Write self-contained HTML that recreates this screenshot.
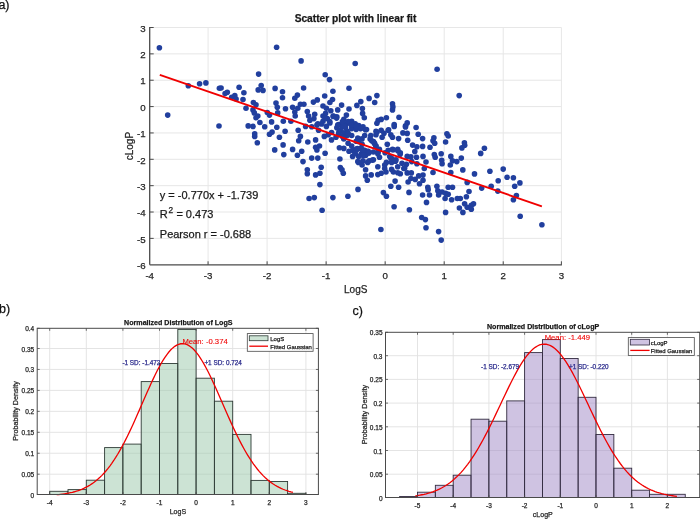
<!DOCTYPE html>
<html><head><meta charset="utf-8"><style>
html,body{margin:0;padding:0;background:#fff;}
svg{display:block;font-family:"Liberation Sans", sans-serif;will-change:transform;}
</style></head><body>
<svg width="700" height="519" viewBox="0 0 700 519">
<rect width="700" height="519" fill="#fff"/>
<line x1="208.07" y1="27.50" x2="208.07" y2="264.80" stroke="#e7e7e7" stroke-width="1"/>
<line x1="267.10" y1="27.50" x2="267.10" y2="264.80" stroke="#e7e7e7" stroke-width="1"/>
<line x1="326.13" y1="27.50" x2="326.13" y2="264.80" stroke="#e7e7e7" stroke-width="1"/>
<line x1="385.16" y1="27.50" x2="385.16" y2="264.80" stroke="#e7e7e7" stroke-width="1"/>
<line x1="444.19" y1="27.50" x2="444.19" y2="264.80" stroke="#e7e7e7" stroke-width="1"/>
<line x1="503.22" y1="27.50" x2="503.22" y2="264.80" stroke="#e7e7e7" stroke-width="1"/>
<line x1="561.40" y1="27.50" x2="561.40" y2="264.80" stroke="#e7e7e7" stroke-width="1"/>
<line x1="149.70" y1="238.38" x2="561.40" y2="238.38" stroke="#e7e7e7" stroke-width="1"/>
<line x1="149.70" y1="212.02" x2="561.40" y2="212.02" stroke="#e7e7e7" stroke-width="1"/>
<line x1="149.70" y1="185.66" x2="561.40" y2="185.66" stroke="#e7e7e7" stroke-width="1"/>
<line x1="149.70" y1="159.30" x2="561.40" y2="159.30" stroke="#e7e7e7" stroke-width="1"/>
<line x1="149.70" y1="132.94" x2="561.40" y2="132.94" stroke="#e7e7e7" stroke-width="1"/>
<line x1="149.70" y1="106.58" x2="561.40" y2="106.58" stroke="#e7e7e7" stroke-width="1"/>
<line x1="149.70" y1="80.22" x2="561.40" y2="80.22" stroke="#e7e7e7" stroke-width="1"/>
<line x1="149.70" y1="53.86" x2="561.40" y2="53.86" stroke="#e7e7e7" stroke-width="1"/>
<line x1="149.70" y1="27.50" x2="561.40" y2="27.50" stroke="#e7e7e7" stroke-width="1"/>
<line x1="149.70" y1="27.00" x2="149.70" y2="264.80" stroke="#4a4a4a" stroke-width="1.3"/>
<line x1="149.70" y1="264.80" x2="561.90" y2="264.80" stroke="#4a4a4a" stroke-width="1.3"/>
<line x1="149.70" y1="238.38" x2="153.70" y2="238.38" stroke="#4a4a4a" stroke-width="1"/>
<line x1="149.70" y1="212.02" x2="153.70" y2="212.02" stroke="#4a4a4a" stroke-width="1"/>
<line x1="149.70" y1="185.66" x2="153.70" y2="185.66" stroke="#4a4a4a" stroke-width="1"/>
<line x1="149.70" y1="159.30" x2="153.70" y2="159.30" stroke="#4a4a4a" stroke-width="1"/>
<line x1="149.70" y1="132.94" x2="153.70" y2="132.94" stroke="#4a4a4a" stroke-width="1"/>
<line x1="149.70" y1="106.58" x2="153.70" y2="106.58" stroke="#4a4a4a" stroke-width="1"/>
<line x1="149.70" y1="80.22" x2="153.70" y2="80.22" stroke="#4a4a4a" stroke-width="1"/>
<line x1="149.70" y1="53.86" x2="153.70" y2="53.86" stroke="#4a4a4a" stroke-width="1"/>
<line x1="149.70" y1="27.50" x2="153.70" y2="27.50" stroke="#4a4a4a" stroke-width="1"/>
<line x1="208.07" y1="264.80" x2="208.07" y2="261.30" stroke="#4a4a4a" stroke-width="1"/>
<line x1="267.10" y1="264.80" x2="267.10" y2="261.30" stroke="#4a4a4a" stroke-width="1"/>
<line x1="326.13" y1="264.80" x2="326.13" y2="261.30" stroke="#4a4a4a" stroke-width="1"/>
<line x1="385.16" y1="264.80" x2="385.16" y2="261.30" stroke="#4a4a4a" stroke-width="1"/>
<line x1="444.19" y1="264.80" x2="444.19" y2="261.30" stroke="#4a4a4a" stroke-width="1"/>
<line x1="503.22" y1="264.80" x2="503.22" y2="261.30" stroke="#4a4a4a" stroke-width="1"/>
<line x1="561.40" y1="264.80" x2="561.40" y2="261.30" stroke="#4a4a4a" stroke-width="1"/>
<text x="145.70" y="268.94" font-size="9.7" text-anchor="end" fill="#262626" stroke="#262626" stroke-width="0.25">-6</text>
<text x="145.70" y="242.58" font-size="9.7" text-anchor="end" fill="#262626" stroke="#262626" stroke-width="0.25">-5</text>
<text x="145.70" y="216.22" font-size="9.7" text-anchor="end" fill="#262626" stroke="#262626" stroke-width="0.25">-4</text>
<text x="145.70" y="189.86" font-size="9.7" text-anchor="end" fill="#262626" stroke="#262626" stroke-width="0.25">-3</text>
<text x="145.70" y="163.50" font-size="9.7" text-anchor="end" fill="#262626" stroke="#262626" stroke-width="0.25">-2</text>
<text x="145.70" y="137.14" font-size="9.7" text-anchor="end" fill="#262626" stroke="#262626" stroke-width="0.25">-1</text>
<text x="145.70" y="110.78" font-size="9.7" text-anchor="end" fill="#262626" stroke="#262626" stroke-width="0.25">0</text>
<text x="145.70" y="84.42" font-size="9.7" text-anchor="end" fill="#262626" stroke="#262626" stroke-width="0.25">1</text>
<text x="145.70" y="58.06" font-size="9.7" text-anchor="end" fill="#262626" stroke="#262626" stroke-width="0.25">2</text>
<text x="145.70" y="31.70" font-size="9.7" text-anchor="end" fill="#262626" stroke="#262626" stroke-width="0.25">3</text>
<text x="149.70" y="279.00" font-size="9.7" text-anchor="middle" fill="#262626" stroke="#262626" stroke-width="0.25">-4</text>
<text x="208.07" y="279.00" font-size="9.7" text-anchor="middle" fill="#262626" stroke="#262626" stroke-width="0.25">-3</text>
<text x="267.10" y="279.00" font-size="9.7" text-anchor="middle" fill="#262626" stroke="#262626" stroke-width="0.25">-2</text>
<text x="326.13" y="279.00" font-size="9.7" text-anchor="middle" fill="#262626" stroke="#262626" stroke-width="0.25">-1</text>
<text x="385.16" y="279.00" font-size="9.7" text-anchor="middle" fill="#262626" stroke="#262626" stroke-width="0.25">0</text>
<text x="444.19" y="279.00" font-size="9.7" text-anchor="middle" fill="#262626" stroke="#262626" stroke-width="0.25">1</text>
<text x="503.22" y="279.00" font-size="9.7" text-anchor="middle" fill="#262626" stroke="#262626" stroke-width="0.25">2</text>
<text x="561.40" y="279.00" font-size="9.7" text-anchor="middle" fill="#262626" stroke="#262626" stroke-width="0.25">3</text>
<circle cx="159.4" cy="47.7" r="2.8" fill="#213f9e"/>
<circle cx="188.3" cy="85.8" r="2.8" fill="#213f9e"/>
<circle cx="199.6" cy="83.8" r="2.8" fill="#213f9e"/>
<circle cx="205.9" cy="82.9" r="2.8" fill="#213f9e"/>
<circle cx="167.7" cy="115.1" r="2.8" fill="#213f9e"/>
<circle cx="219.0" cy="126.0" r="2.8" fill="#213f9e"/>
<circle cx="219.4" cy="88.2" r="2.8" fill="#213f9e"/>
<circle cx="221.1" cy="88.0" r="2.8" fill="#213f9e"/>
<circle cx="225.1" cy="93.5" r="2.8" fill="#213f9e"/>
<circle cx="227.3" cy="92.3" r="2.8" fill="#213f9e"/>
<circle cx="276.6" cy="47.2" r="2.8" fill="#213f9e"/>
<circle cx="301.1" cy="60.9" r="2.8" fill="#213f9e"/>
<circle cx="258.6" cy="74.1" r="2.8" fill="#213f9e"/>
<circle cx="239.1" cy="87.3" r="2.8" fill="#213f9e"/>
<circle cx="243.9" cy="92.7" r="2.8" fill="#213f9e"/>
<circle cx="234.8" cy="95.6" r="2.8" fill="#213f9e"/>
<circle cx="231.7" cy="97.3" r="2.8" fill="#213f9e"/>
<circle cx="236.1" cy="99.0" r="2.8" fill="#213f9e"/>
<circle cx="243.0" cy="99.5" r="2.8" fill="#213f9e"/>
<circle cx="261.2" cy="85.6" r="2.8" fill="#213f9e"/>
<circle cx="258.2" cy="89.9" r="2.8" fill="#213f9e"/>
<circle cx="263.0" cy="90.4" r="2.8" fill="#213f9e"/>
<circle cx="275.1" cy="88.4" r="2.8" fill="#213f9e"/>
<circle cx="282.5" cy="91.7" r="2.8" fill="#213f9e"/>
<circle cx="282.5" cy="97.7" r="2.8" fill="#213f9e"/>
<circle cx="253.4" cy="102.5" r="2.8" fill="#213f9e"/>
<circle cx="256.0" cy="104.7" r="2.8" fill="#213f9e"/>
<circle cx="246.0" cy="108.2" r="2.8" fill="#213f9e"/>
<circle cx="253.0" cy="109.9" r="2.8" fill="#213f9e"/>
<circle cx="254.3" cy="112.9" r="2.8" fill="#213f9e"/>
<circle cx="257.8" cy="116.0" r="2.8" fill="#213f9e"/>
<circle cx="256.0" cy="117.7" r="2.8" fill="#213f9e"/>
<circle cx="276.0" cy="103.1" r="2.8" fill="#213f9e"/>
<circle cx="277.3" cy="107.3" r="2.8" fill="#213f9e"/>
<circle cx="285.5" cy="108.8" r="2.8" fill="#213f9e"/>
<circle cx="267.3" cy="112.5" r="2.8" fill="#213f9e"/>
<circle cx="269.5" cy="115.1" r="2.8" fill="#213f9e"/>
<circle cx="277.7" cy="112.9" r="2.8" fill="#213f9e"/>
<circle cx="259.9" cy="122.5" r="2.8" fill="#213f9e"/>
<circle cx="271.6" cy="121.9" r="2.8" fill="#213f9e"/>
<circle cx="283.3" cy="121.2" r="2.8" fill="#213f9e"/>
<circle cx="248.2" cy="125.9" r="2.8" fill="#213f9e"/>
<circle cx="253.0" cy="126.4" r="2.8" fill="#213f9e"/>
<circle cx="264.7" cy="126.8" r="2.8" fill="#213f9e"/>
<circle cx="276.8" cy="127.2" r="2.8" fill="#213f9e"/>
<circle cx="355.2" cy="63.5" r="2.8" fill="#213f9e"/>
<circle cx="325.2" cy="74.7" r="2.8" fill="#213f9e"/>
<circle cx="329.5" cy="79.6" r="2.8" fill="#213f9e"/>
<circle cx="437.1" cy="69.2" r="2.8" fill="#213f9e"/>
<circle cx="459.2" cy="95.6" r="2.8" fill="#213f9e"/>
<circle cx="303.6" cy="88.0" r="2.8" fill="#213f9e"/>
<circle cx="297.4" cy="95.1" r="2.8" fill="#213f9e"/>
<circle cx="294.8" cy="98.2" r="2.8" fill="#213f9e"/>
<circle cx="292.6" cy="107.3" r="2.8" fill="#213f9e"/>
<circle cx="297.8" cy="108.2" r="2.8" fill="#213f9e"/>
<circle cx="300.4" cy="104.2" r="2.8" fill="#213f9e"/>
<circle cx="303.9" cy="104.2" r="2.8" fill="#213f9e"/>
<circle cx="294.8" cy="112.1" r="2.8" fill="#213f9e"/>
<circle cx="295.2" cy="116.0" r="2.8" fill="#213f9e"/>
<circle cx="290.9" cy="121.2" r="2.8" fill="#213f9e"/>
<circle cx="307.3" cy="111.6" r="2.8" fill="#213f9e"/>
<circle cx="308.6" cy="116.0" r="2.8" fill="#213f9e"/>
<circle cx="309.9" cy="120.3" r="2.8" fill="#213f9e"/>
<circle cx="313.4" cy="102.1" r="2.8" fill="#213f9e"/>
<circle cx="317.3" cy="99.9" r="2.8" fill="#213f9e"/>
<circle cx="314.7" cy="114.2" r="2.8" fill="#213f9e"/>
<circle cx="313.9" cy="118.6" r="2.8" fill="#213f9e"/>
<circle cx="324.7" cy="96.0" r="2.8" fill="#213f9e"/>
<circle cx="332.9" cy="91.2" r="2.8" fill="#213f9e"/>
<circle cx="332.5" cy="99.5" r="2.8" fill="#213f9e"/>
<circle cx="329.9" cy="102.5" r="2.8" fill="#213f9e"/>
<circle cx="323.0" cy="106.0" r="2.8" fill="#213f9e"/>
<circle cx="326.4" cy="108.2" r="2.8" fill="#213f9e"/>
<circle cx="330.8" cy="110.8" r="2.8" fill="#213f9e"/>
<circle cx="323.0" cy="116.0" r="2.8" fill="#213f9e"/>
<circle cx="325.6" cy="113.4" r="2.8" fill="#213f9e"/>
<circle cx="327.3" cy="118.6" r="2.8" fill="#213f9e"/>
<circle cx="323.0" cy="121.2" r="2.8" fill="#213f9e"/>
<circle cx="317.8" cy="123.8" r="2.8" fill="#213f9e"/>
<circle cx="329.9" cy="122.9" r="2.8" fill="#213f9e"/>
<circle cx="333.4" cy="116.0" r="2.8" fill="#213f9e"/>
<circle cx="336.8" cy="116.8" r="2.8" fill="#213f9e"/>
<circle cx="337.7" cy="109.9" r="2.8" fill="#213f9e"/>
<circle cx="341.6" cy="105.1" r="2.8" fill="#213f9e"/>
<circle cx="349.0" cy="88.2" r="2.8" fill="#213f9e"/>
<circle cx="349.0" cy="109.0" r="2.8" fill="#213f9e"/>
<circle cx="346.4" cy="115.1" r="2.8" fill="#213f9e"/>
<circle cx="343.8" cy="119.4" r="2.8" fill="#213f9e"/>
<circle cx="338.6" cy="124.6" r="2.8" fill="#213f9e"/>
<circle cx="346.4" cy="123.8" r="2.8" fill="#213f9e"/>
<circle cx="305.6" cy="126.4" r="2.8" fill="#213f9e"/>
<circle cx="311.7" cy="126.8" r="2.8" fill="#213f9e"/>
<circle cx="326.4" cy="126.4" r="2.8" fill="#213f9e"/>
<circle cx="342.0" cy="126.4" r="2.8" fill="#213f9e"/>
<circle cx="376.9" cy="95.6" r="2.8" fill="#213f9e"/>
<circle cx="369.1" cy="98.4" r="2.8" fill="#213f9e"/>
<circle cx="374.7" cy="102.5" r="2.8" fill="#213f9e"/>
<circle cx="360.8" cy="101.6" r="2.8" fill="#213f9e"/>
<circle cx="356.9" cy="105.4" r="2.8" fill="#213f9e"/>
<circle cx="362.4" cy="108.6" r="2.8" fill="#213f9e"/>
<circle cx="362.6" cy="113.4" r="2.8" fill="#213f9e"/>
<circle cx="364.3" cy="117.7" r="2.8" fill="#213f9e"/>
<circle cx="392.5" cy="103.8" r="2.8" fill="#213f9e"/>
<circle cx="392.9" cy="106.9" r="2.8" fill="#213f9e"/>
<circle cx="392.5" cy="109.9" r="2.8" fill="#213f9e"/>
<circle cx="386.4" cy="117.7" r="2.8" fill="#213f9e"/>
<circle cx="381.2" cy="119.4" r="2.8" fill="#213f9e"/>
<circle cx="378.2" cy="120.3" r="2.8" fill="#213f9e"/>
<circle cx="376.9" cy="123.3" r="2.8" fill="#213f9e"/>
<circle cx="399.0" cy="117.3" r="2.8" fill="#213f9e"/>
<circle cx="394.2" cy="124.6" r="2.8" fill="#213f9e"/>
<circle cx="407.2" cy="122.9" r="2.8" fill="#213f9e"/>
<circle cx="405.5" cy="125.9" r="2.8" fill="#213f9e"/>
<circle cx="351.7" cy="121.2" r="2.8" fill="#213f9e"/>
<circle cx="355.2" cy="123.8" r="2.8" fill="#213f9e"/>
<circle cx="358.7" cy="125.5" r="2.8" fill="#213f9e"/>
<circle cx="363.0" cy="126.8" r="2.8" fill="#213f9e"/>
<circle cx="350.9" cy="124.6" r="2.8" fill="#213f9e"/>
<circle cx="464.4" cy="142.7" r="2.8" fill="#213f9e"/>
<circle cx="464.7" cy="145.3" r="2.8" fill="#213f9e"/>
<circle cx="461.9" cy="147.9" r="2.8" fill="#213f9e"/>
<circle cx="484.4" cy="148.2" r="2.8" fill="#213f9e"/>
<circle cx="480.7" cy="153.4" r="2.8" fill="#213f9e"/>
<circle cx="461.3" cy="158.1" r="2.8" fill="#213f9e"/>
<circle cx="462.8" cy="169.9" r="2.8" fill="#213f9e"/>
<circle cx="474.5" cy="173.9" r="2.8" fill="#213f9e"/>
<circle cx="489.9" cy="171.2" r="2.8" fill="#213f9e"/>
<circle cx="503.2" cy="169.1" r="2.8" fill="#213f9e"/>
<circle cx="507.1" cy="177.3" r="2.8" fill="#213f9e"/>
<circle cx="513.4" cy="177.8" r="2.8" fill="#213f9e"/>
<circle cx="416.1" cy="127.5" r="2.8" fill="#213f9e"/>
<circle cx="254.7" cy="133.8" r="2.8" fill="#213f9e"/>
<circle cx="254.7" cy="136.4" r="2.8" fill="#213f9e"/>
<circle cx="257.3" cy="142.7" r="2.8" fill="#213f9e"/>
<circle cx="269.5" cy="134.2" r="2.8" fill="#213f9e"/>
<circle cx="272.1" cy="132.1" r="2.8" fill="#213f9e"/>
<circle cx="285.1" cy="131.2" r="2.8" fill="#213f9e"/>
<circle cx="279.4" cy="137.3" r="2.8" fill="#213f9e"/>
<circle cx="283.1" cy="144.9" r="2.8" fill="#213f9e"/>
<circle cx="274.7" cy="149.9" r="2.8" fill="#213f9e"/>
<circle cx="283.8" cy="154.6" r="2.8" fill="#213f9e"/>
<circle cx="298.2" cy="130.3" r="2.8" fill="#213f9e"/>
<circle cx="300.4" cy="136.4" r="2.8" fill="#213f9e"/>
<circle cx="298.7" cy="140.7" r="2.8" fill="#213f9e"/>
<circle cx="307.8" cy="142.0" r="2.8" fill="#213f9e"/>
<circle cx="315.6" cy="139.9" r="2.8" fill="#213f9e"/>
<circle cx="318.6" cy="130.3" r="2.8" fill="#213f9e"/>
<circle cx="324.3" cy="136.4" r="2.8" fill="#213f9e"/>
<circle cx="328.2" cy="134.7" r="2.8" fill="#213f9e"/>
<circle cx="331.5" cy="139.9" r="2.8" fill="#213f9e"/>
<circle cx="319.5" cy="146.0" r="2.8" fill="#213f9e"/>
<circle cx="315.6" cy="147.2" r="2.8" fill="#213f9e"/>
<circle cx="316.9" cy="149.9" r="2.8" fill="#213f9e"/>
<circle cx="325.1" cy="153.3" r="2.8" fill="#213f9e"/>
<circle cx="292.6" cy="149.4" r="2.8" fill="#213f9e"/>
<circle cx="301.7" cy="151.2" r="2.8" fill="#213f9e"/>
<circle cx="297.4" cy="155.3" r="2.8" fill="#213f9e"/>
<circle cx="311.7" cy="158.1" r="2.8" fill="#213f9e"/>
<circle cx="317.8" cy="158.1" r="2.8" fill="#213f9e"/>
<circle cx="303.0" cy="161.6" r="2.8" fill="#213f9e"/>
<circle cx="321.2" cy="167.2" r="2.8" fill="#213f9e"/>
<circle cx="307.3" cy="169.8" r="2.8" fill="#213f9e"/>
<circle cx="339.4" cy="147.7" r="2.8" fill="#213f9e"/>
<circle cx="343.8" cy="148.4" r="2.8" fill="#213f9e"/>
<circle cx="349.0" cy="151.2" r="2.8" fill="#213f9e"/>
<circle cx="339.9" cy="159.0" r="2.8" fill="#213f9e"/>
<circle cx="340.3" cy="167.6" r="2.8" fill="#213f9e"/>
<circle cx="342.0" cy="169.8" r="2.8" fill="#213f9e"/>
<circle cx="336.8" cy="127.7" r="2.8" fill="#213f9e"/>
<circle cx="340.3" cy="130.3" r="2.8" fill="#213f9e"/>
<circle cx="338.6" cy="133.8" r="2.8" fill="#213f9e"/>
<circle cx="343.8" cy="132.9" r="2.8" fill="#213f9e"/>
<circle cx="347.2" cy="135.5" r="2.8" fill="#213f9e"/>
<circle cx="343.8" cy="139.0" r="2.8" fill="#213f9e"/>
<circle cx="348.1" cy="143.3" r="2.8" fill="#213f9e"/>
<circle cx="336.0" cy="137.3" r="2.8" fill="#213f9e"/>
<circle cx="347.2" cy="131.2" r="2.8" fill="#213f9e"/>
<circle cx="331.6" cy="132.5" r="2.8" fill="#213f9e"/>
<circle cx="345.5" cy="127.7" r="2.8" fill="#213f9e"/>
<circle cx="351.7" cy="128.6" r="2.8" fill="#213f9e"/>
<circle cx="356.1" cy="129.5" r="2.8" fill="#213f9e"/>
<circle cx="360.4" cy="128.6" r="2.8" fill="#213f9e"/>
<circle cx="366.5" cy="129.5" r="2.8" fill="#213f9e"/>
<circle cx="376.0" cy="131.2" r="2.8" fill="#213f9e"/>
<circle cx="381.2" cy="130.3" r="2.8" fill="#213f9e"/>
<circle cx="388.2" cy="130.3" r="2.8" fill="#213f9e"/>
<circle cx="394.2" cy="126.4" r="2.8" fill="#213f9e"/>
<circle cx="405.5" cy="126.9" r="2.8" fill="#213f9e"/>
<circle cx="402.9" cy="132.9" r="2.8" fill="#213f9e"/>
<circle cx="407.2" cy="133.4" r="2.8" fill="#213f9e"/>
<circle cx="351.7" cy="135.5" r="2.8" fill="#213f9e"/>
<circle cx="357.8" cy="138.1" r="2.8" fill="#213f9e"/>
<circle cx="364.7" cy="135.5" r="2.8" fill="#213f9e"/>
<circle cx="370.8" cy="135.5" r="2.8" fill="#213f9e"/>
<circle cx="376.0" cy="134.7" r="2.8" fill="#213f9e"/>
<circle cx="382.1" cy="137.3" r="2.8" fill="#213f9e"/>
<circle cx="390.8" cy="134.7" r="2.8" fill="#213f9e"/>
<circle cx="392.5" cy="137.3" r="2.8" fill="#213f9e"/>
<circle cx="398.6" cy="138.6" r="2.8" fill="#213f9e"/>
<circle cx="407.7" cy="140.3" r="2.8" fill="#213f9e"/>
<circle cx="358.7" cy="141.6" r="2.8" fill="#213f9e"/>
<circle cx="362.1" cy="144.2" r="2.8" fill="#213f9e"/>
<circle cx="371.7" cy="140.7" r="2.8" fill="#213f9e"/>
<circle cx="374.3" cy="143.3" r="2.8" fill="#213f9e"/>
<circle cx="376.0" cy="146.0" r="2.8" fill="#213f9e"/>
<circle cx="387.3" cy="144.2" r="2.8" fill="#213f9e"/>
<circle cx="351.7" cy="146.0" r="2.8" fill="#213f9e"/>
<circle cx="352.6" cy="150.3" r="2.8" fill="#213f9e"/>
<circle cx="356.9" cy="149.4" r="2.8" fill="#213f9e"/>
<circle cx="360.4" cy="148.5" r="2.8" fill="#213f9e"/>
<circle cx="364.7" cy="150.3" r="2.8" fill="#213f9e"/>
<circle cx="368.2" cy="151.2" r="2.8" fill="#213f9e"/>
<circle cx="355.2" cy="153.8" r="2.8" fill="#213f9e"/>
<circle cx="361.3" cy="153.8" r="2.8" fill="#213f9e"/>
<circle cx="373.4" cy="152.0" r="2.8" fill="#213f9e"/>
<circle cx="377.8" cy="153.8" r="2.8" fill="#213f9e"/>
<circle cx="388.2" cy="150.3" r="2.8" fill="#213f9e"/>
<circle cx="392.5" cy="149.4" r="2.8" fill="#213f9e"/>
<circle cx="397.7" cy="149.4" r="2.8" fill="#213f9e"/>
<circle cx="400.3" cy="152.9" r="2.8" fill="#213f9e"/>
<circle cx="407.2" cy="156.4" r="2.8" fill="#213f9e"/>
<circle cx="352.6" cy="156.4" r="2.8" fill="#213f9e"/>
<circle cx="358.7" cy="156.4" r="2.8" fill="#213f9e"/>
<circle cx="365.6" cy="155.5" r="2.8" fill="#213f9e"/>
<circle cx="379.5" cy="157.2" r="2.8" fill="#213f9e"/>
<circle cx="390.8" cy="158.1" r="2.8" fill="#213f9e"/>
<circle cx="396.0" cy="159.8" r="2.8" fill="#213f9e"/>
<circle cx="357.8" cy="161.6" r="2.8" fill="#213f9e"/>
<circle cx="363.0" cy="160.7" r="2.8" fill="#213f9e"/>
<circle cx="369.1" cy="160.7" r="2.8" fill="#213f9e"/>
<circle cx="373.4" cy="159.8" r="2.8" fill="#213f9e"/>
<circle cx="386.4" cy="162.4" r="2.8" fill="#213f9e"/>
<circle cx="391.6" cy="162.4" r="2.8" fill="#213f9e"/>
<circle cx="402.0" cy="163.3" r="2.8" fill="#213f9e"/>
<circle cx="406.4" cy="164.2" r="2.8" fill="#213f9e"/>
<circle cx="362.1" cy="165.0" r="2.8" fill="#213f9e"/>
<circle cx="377.8" cy="166.8" r="2.8" fill="#213f9e"/>
<circle cx="384.7" cy="165.0" r="2.8" fill="#213f9e"/>
<circle cx="384.7" cy="168.5" r="2.8" fill="#213f9e"/>
<circle cx="391.6" cy="169.4" r="2.8" fill="#213f9e"/>
<circle cx="397.7" cy="166.8" r="2.8" fill="#213f9e"/>
<circle cx="403.8" cy="168.5" r="2.8" fill="#213f9e"/>
<circle cx="365.6" cy="169.8" r="2.8" fill="#213f9e"/>
<circle cx="418.2" cy="134.2" r="2.8" fill="#213f9e"/>
<circle cx="422.6" cy="138.6" r="2.8" fill="#213f9e"/>
<circle cx="433.9" cy="137.7" r="2.8" fill="#213f9e"/>
<circle cx="433.0" cy="140.7" r="2.8" fill="#213f9e"/>
<circle cx="434.7" cy="143.3" r="2.8" fill="#213f9e"/>
<circle cx="430.0" cy="147.2" r="2.8" fill="#213f9e"/>
<circle cx="446.9" cy="133.8" r="2.8" fill="#213f9e"/>
<circle cx="448.2" cy="136.0" r="2.8" fill="#213f9e"/>
<circle cx="445.6" cy="142.0" r="2.8" fill="#213f9e"/>
<circle cx="412.6" cy="145.1" r="2.8" fill="#213f9e"/>
<circle cx="416.9" cy="146.8" r="2.8" fill="#213f9e"/>
<circle cx="422.6" cy="146.4" r="2.8" fill="#213f9e"/>
<circle cx="414.8" cy="151.6" r="2.8" fill="#213f9e"/>
<circle cx="410.9" cy="156.8" r="2.8" fill="#213f9e"/>
<circle cx="416.5" cy="157.2" r="2.8" fill="#213f9e"/>
<circle cx="423.0" cy="156.4" r="2.8" fill="#213f9e"/>
<circle cx="426.0" cy="162.0" r="2.8" fill="#213f9e"/>
<circle cx="434.3" cy="154.6" r="2.8" fill="#213f9e"/>
<circle cx="435.2" cy="157.2" r="2.8" fill="#213f9e"/>
<circle cx="441.2" cy="153.8" r="2.8" fill="#213f9e"/>
<circle cx="441.7" cy="160.3" r="2.8" fill="#213f9e"/>
<circle cx="442.1" cy="163.7" r="2.8" fill="#213f9e"/>
<circle cx="450.8" cy="156.4" r="2.8" fill="#213f9e"/>
<circle cx="452.5" cy="160.7" r="2.8" fill="#213f9e"/>
<circle cx="456.8" cy="161.6" r="2.8" fill="#213f9e"/>
<circle cx="450.3" cy="165.0" r="2.8" fill="#213f9e"/>
<circle cx="411.7" cy="161.6" r="2.8" fill="#213f9e"/>
<circle cx="416.9" cy="163.7" r="2.8" fill="#213f9e"/>
<circle cx="424.3" cy="168.5" r="2.8" fill="#213f9e"/>
<circle cx="307.3" cy="173.8" r="2.8" fill="#213f9e"/>
<circle cx="315.6" cy="174.9" r="2.8" fill="#213f9e"/>
<circle cx="319.9" cy="173.3" r="2.8" fill="#213f9e"/>
<circle cx="319.9" cy="184.6" r="2.8" fill="#213f9e"/>
<circle cx="309.1" cy="198.5" r="2.8" fill="#213f9e"/>
<circle cx="314.3" cy="197.6" r="2.8" fill="#213f9e"/>
<circle cx="332.9" cy="197.6" r="2.8" fill="#213f9e"/>
<circle cx="347.9" cy="196.3" r="2.8" fill="#213f9e"/>
<circle cx="322.1" cy="210.2" r="2.8" fill="#213f9e"/>
<circle cx="343.3" cy="173.3" r="2.8" fill="#213f9e"/>
<circle cx="365.6" cy="175.9" r="2.8" fill="#213f9e"/>
<circle cx="367.3" cy="180.3" r="2.8" fill="#213f9e"/>
<circle cx="371.2" cy="174.9" r="2.8" fill="#213f9e"/>
<circle cx="377.8" cy="174.6" r="2.8" fill="#213f9e"/>
<circle cx="381.2" cy="173.3" r="2.8" fill="#213f9e"/>
<circle cx="386.0" cy="172.0" r="2.8" fill="#213f9e"/>
<circle cx="393.4" cy="172.0" r="2.8" fill="#213f9e"/>
<circle cx="400.3" cy="173.8" r="2.8" fill="#213f9e"/>
<circle cx="407.2" cy="172.9" r="2.8" fill="#213f9e"/>
<circle cx="395.1" cy="181.1" r="2.8" fill="#213f9e"/>
<circle cx="390.8" cy="186.3" r="2.8" fill="#213f9e"/>
<circle cx="398.6" cy="187.2" r="2.8" fill="#213f9e"/>
<circle cx="408.1" cy="182.0" r="2.8" fill="#213f9e"/>
<circle cx="358.0" cy="189.4" r="2.8" fill="#213f9e"/>
<circle cx="383.4" cy="192.6" r="2.8" fill="#213f9e"/>
<circle cx="386.4" cy="196.3" r="2.8" fill="#213f9e"/>
<circle cx="394.1" cy="206.7" r="2.8" fill="#213f9e"/>
<circle cx="409.0" cy="192.4" r="2.8" fill="#213f9e"/>
<circle cx="409.4" cy="209.8" r="2.8" fill="#213f9e"/>
<circle cx="411.3" cy="172.9" r="2.8" fill="#213f9e"/>
<circle cx="410.9" cy="178.5" r="2.8" fill="#213f9e"/>
<circle cx="415.2" cy="179.4" r="2.8" fill="#213f9e"/>
<circle cx="418.7" cy="175.9" r="2.8" fill="#213f9e"/>
<circle cx="423.0" cy="175.1" r="2.8" fill="#213f9e"/>
<circle cx="423.0" cy="180.3" r="2.8" fill="#213f9e"/>
<circle cx="419.5" cy="183.7" r="2.8" fill="#213f9e"/>
<circle cx="433.0" cy="172.5" r="2.8" fill="#213f9e"/>
<circle cx="450.8" cy="172.5" r="2.8" fill="#213f9e"/>
<circle cx="467.2" cy="182.4" r="2.8" fill="#213f9e"/>
<circle cx="427.8" cy="187.2" r="2.8" fill="#213f9e"/>
<circle cx="428.2" cy="189.8" r="2.8" fill="#213f9e"/>
<circle cx="436.9" cy="186.3" r="2.8" fill="#213f9e"/>
<circle cx="437.8" cy="190.7" r="2.8" fill="#213f9e"/>
<circle cx="442.1" cy="192.0" r="2.8" fill="#213f9e"/>
<circle cx="438.6" cy="195.0" r="2.8" fill="#213f9e"/>
<circle cx="445.6" cy="193.3" r="2.8" fill="#213f9e"/>
<circle cx="448.2" cy="187.2" r="2.8" fill="#213f9e"/>
<circle cx="452.5" cy="187.2" r="2.8" fill="#213f9e"/>
<circle cx="448.2" cy="194.2" r="2.8" fill="#213f9e"/>
<circle cx="445.1" cy="198.5" r="2.8" fill="#213f9e"/>
<circle cx="451.6" cy="199.8" r="2.8" fill="#213f9e"/>
<circle cx="457.3" cy="198.5" r="2.8" fill="#213f9e"/>
<circle cx="460.3" cy="198.5" r="2.8" fill="#213f9e"/>
<circle cx="466.4" cy="196.8" r="2.8" fill="#213f9e"/>
<circle cx="469.0" cy="191.5" r="2.8" fill="#213f9e"/>
<circle cx="422.6" cy="195.0" r="2.8" fill="#213f9e"/>
<circle cx="429.5" cy="195.0" r="2.8" fill="#213f9e"/>
<circle cx="426.5" cy="202.4" r="2.8" fill="#213f9e"/>
<circle cx="445.6" cy="212.4" r="2.8" fill="#213f9e"/>
<circle cx="459.4" cy="208.0" r="2.8" fill="#213f9e"/>
<circle cx="464.6" cy="203.7" r="2.8" fill="#213f9e"/>
<circle cx="467.2" cy="207.2" r="2.8" fill="#213f9e"/>
<circle cx="462.9" cy="212.4" r="2.8" fill="#213f9e"/>
<circle cx="498.2" cy="180.7" r="2.8" fill="#213f9e"/>
<circle cx="519.9" cy="182.9" r="2.8" fill="#213f9e"/>
<circle cx="514.7" cy="186.3" r="2.8" fill="#213f9e"/>
<circle cx="481.7" cy="188.1" r="2.8" fill="#213f9e"/>
<circle cx="491.2" cy="186.3" r="2.8" fill="#213f9e"/>
<circle cx="497.8" cy="191.1" r="2.8" fill="#213f9e"/>
<circle cx="516.4" cy="195.5" r="2.8" fill="#213f9e"/>
<circle cx="513.4" cy="199.8" r="2.8" fill="#213f9e"/>
<circle cx="473.5" cy="203.7" r="2.8" fill="#213f9e"/>
<circle cx="471.3" cy="205.4" r="2.8" fill="#213f9e"/>
<circle cx="471.3" cy="209.3" r="2.8" fill="#213f9e"/>
<circle cx="520.2" cy="216.2" r="2.8" fill="#213f9e"/>
<circle cx="541.9" cy="224.7" r="2.8" fill="#213f9e"/>
<circle cx="380.9" cy="229.5" r="2.8" fill="#213f9e"/>
<circle cx="421.7" cy="217.5" r="2.8" fill="#213f9e"/>
<circle cx="425.4" cy="219.6" r="2.8" fill="#213f9e"/>
<circle cx="426.0" cy="227.8" r="2.8" fill="#213f9e"/>
<circle cx="438.6" cy="231.6" r="2.8" fill="#213f9e"/>
<circle cx="441.2" cy="240.1" r="2.8" fill="#213f9e"/>
<circle cx="325.0" cy="118.1" r="2.8" fill="#213f9e"/>
<circle cx="329.7" cy="121.6" r="2.8" fill="#213f9e"/>
<circle cx="333.1" cy="116.4" r="2.8" fill="#213f9e"/>
<circle cx="336.6" cy="118.1" r="2.8" fill="#213f9e"/>
<circle cx="316.9" cy="125.1" r="2.8" fill="#213f9e"/>
<circle cx="321.6" cy="123.9" r="2.8" fill="#213f9e"/>
<circle cx="337.7" cy="125.1" r="2.8" fill="#213f9e"/>
<circle cx="342.4" cy="121.6" r="2.8" fill="#213f9e"/>
<circle cx="348.2" cy="121.6" r="2.8" fill="#213f9e"/>
<circle cx="344.7" cy="126.2" r="2.8" fill="#213f9e"/>
<circle cx="351.6" cy="125.1" r="2.8" fill="#213f9e"/>
<circle cx="356.2" cy="126.2" r="2.8" fill="#213f9e"/>
<circle cx="360.9" cy="128.5" r="2.8" fill="#213f9e"/>
<circle cx="365.5" cy="129.7" r="2.8" fill="#213f9e"/>
<circle cx="338.9" cy="132.0" r="2.8" fill="#213f9e"/>
<circle cx="348.2" cy="133.2" r="2.8" fill="#213f9e"/>
<circle cx="342.4" cy="136.6" r="2.8" fill="#213f9e"/>
<circle cx="356.2" cy="141.2" r="2.8" fill="#213f9e"/>
<circle cx="362.0" cy="138.9" r="2.8" fill="#213f9e"/>
<circle cx="370.1" cy="138.9" r="2.8" fill="#213f9e"/>
<circle cx="374.7" cy="143.6" r="2.8" fill="#213f9e"/>
<circle cx="362.0" cy="149.3" r="2.8" fill="#213f9e"/>
<circle cx="356.2" cy="149.3" r="2.8" fill="#213f9e"/>
<circle cx="367.8" cy="151.6" r="2.8" fill="#213f9e"/>
<circle cx="379.4" cy="149.3" r="2.8" fill="#213f9e"/>
<circle cx="385.1" cy="152.8" r="2.8" fill="#213f9e"/>
<circle cx="377.0" cy="132.0" r="2.8" fill="#213f9e"/>
<circle cx="384.0" cy="133.2" r="2.8" fill="#213f9e"/>
<circle cx="388.6" cy="129.7" r="2.8" fill="#213f9e"/>
<circle cx="393.2" cy="149.7" r="2.8" fill="#213f9e"/>
<circle cx="397.8" cy="150.8" r="2.8" fill="#213f9e"/>
<circle cx="400.1" cy="154.3" r="2.8" fill="#213f9e"/>
<circle cx="392.0" cy="158.9" r="2.8" fill="#213f9e"/>
<circle cx="395.5" cy="161.2" r="2.8" fill="#213f9e"/>
<circle cx="389.7" cy="156.6" r="2.8" fill="#213f9e"/>
<circle cx="357.3" cy="148.5" r="2.8" fill="#213f9e"/>
<circle cx="363.1" cy="150.8" r="2.8" fill="#213f9e"/>
<circle cx="368.9" cy="153.1" r="2.8" fill="#213f9e"/>
<circle cx="355.0" cy="153.1" r="2.8" fill="#213f9e"/>
<circle cx="363.1" cy="155.4" r="2.8" fill="#213f9e"/>
<circle cx="373.5" cy="141.6" r="2.8" fill="#213f9e"/>
<circle cx="375.8" cy="146.2" r="2.8" fill="#213f9e"/>
<circle cx="378.2" cy="152.0" r="2.8" fill="#213f9e"/>
<circle cx="404.7" cy="168.1" r="2.8" fill="#213f9e"/>
<circle cx="397.8" cy="172.8" r="2.8" fill="#213f9e"/>
<circle cx="367.7" cy="162.4" r="2.8" fill="#213f9e"/>
<circle cx="372.4" cy="160.1" r="2.8" fill="#213f9e"/>
<circle cx="358.5" cy="162.4" r="2.8" fill="#213f9e"/>
<line x1="159.78" y1="74.93" x2="541.88" y2="206.31" stroke="#f00000" stroke-width="1.85"/>
<text x="355.5" y="22.2" font-size="10.2" font-weight="bold" text-anchor="middle" fill="#1a1a1a" stroke="#1a1a1a" stroke-width="0.25">Scatter plot with linear fit</text>
<text x="355.7" y="293.2" font-size="10" text-anchor="middle" fill="#262626" stroke="#262626" stroke-width="0.25">LogS</text>
<text transform="translate(132.6,146.1) rotate(-90)" font-size="10" text-anchor="middle" fill="#262626" stroke="#262626" stroke-width="0.25">cLogP</text>
<text x="159.8" y="198.9" font-size="11" fill="#1a1a1a" stroke="#1a1a1a" stroke-width="0.25">y = -0.770x + -1.739</text>
<text x="159.8" y="218.0" font-size="11" fill="#1a1a1a" stroke="#1a1a1a" stroke-width="0.25">R</text>
<text x="168.5" y="212.9" font-size="8.3" fill="#1a1a1a" stroke="#1a1a1a" stroke-width="0.25">2</text>
<text x="176.4" y="218.0" font-size="11" fill="#1a1a1a" stroke="#1a1a1a" stroke-width="0.25">= 0.473</text>
<text x="159.8" y="237.5" font-size="11" fill="#1a1a1a" stroke="#1a1a1a" stroke-width="0.25">Pearson r = -0.688</text>
<text x="-1.6" y="9.0" font-size="12.5" fill="#111" stroke="#111" stroke-width="0.25">a)</text>
<text x="-1.0" y="313.2" font-size="12.5" fill="#111" stroke="#111" stroke-width="0.25">b)</text>
<text x="352.5" y="314.5" font-size="12.5" fill="#111" stroke="#111" stroke-width="0.25">c)</text>
<line x1="49.70" y1="328.30" x2="49.70" y2="494.50" stroke="#e1e1e1" stroke-width="0.9"/>
<line x1="86.30" y1="328.30" x2="86.30" y2="494.50" stroke="#e1e1e1" stroke-width="0.9"/>
<line x1="122.90" y1="328.30" x2="122.90" y2="494.50" stroke="#e1e1e1" stroke-width="0.9"/>
<line x1="159.50" y1="328.30" x2="159.50" y2="494.50" stroke="#e1e1e1" stroke-width="0.9"/>
<line x1="196.10" y1="328.30" x2="196.10" y2="494.50" stroke="#e1e1e1" stroke-width="0.9"/>
<line x1="232.70" y1="328.30" x2="232.70" y2="494.50" stroke="#e1e1e1" stroke-width="0.9"/>
<line x1="269.30" y1="328.30" x2="269.30" y2="494.50" stroke="#e1e1e1" stroke-width="0.9"/>
<line x1="305.90" y1="328.30" x2="305.90" y2="494.50" stroke="#e1e1e1" stroke-width="0.9"/>
<line x1="37.20" y1="474.20" x2="318.40" y2="474.20" stroke="#e1e1e1" stroke-width="0.9"/>
<line x1="37.20" y1="453.25" x2="318.40" y2="453.25" stroke="#e1e1e1" stroke-width="0.9"/>
<line x1="37.20" y1="432.30" x2="318.40" y2="432.30" stroke="#e1e1e1" stroke-width="0.9"/>
<line x1="37.20" y1="411.35" x2="318.40" y2="411.35" stroke="#e1e1e1" stroke-width="0.9"/>
<line x1="37.20" y1="390.40" x2="318.40" y2="390.40" stroke="#e1e1e1" stroke-width="0.9"/>
<line x1="37.20" y1="369.45" x2="318.40" y2="369.45" stroke="#e1e1e1" stroke-width="0.9"/>
<line x1="37.20" y1="348.50" x2="318.40" y2="348.50" stroke="#e1e1e1" stroke-width="0.9"/>
<rect x="49.70" y="491.30" width="18.30" height="3.20" fill="#99c7a9" fill-opacity="0.5" stroke="#2e3a35" stroke-width="0.9"/>
<rect x="68.00" y="489.60" width="18.30" height="4.90" fill="#99c7a9" fill-opacity="0.5" stroke="#2e3a35" stroke-width="0.9"/>
<rect x="86.30" y="480.20" width="18.30" height="14.30" fill="#99c7a9" fill-opacity="0.5" stroke="#2e3a35" stroke-width="0.9"/>
<rect x="104.60" y="447.60" width="18.30" height="46.90" fill="#99c7a9" fill-opacity="0.5" stroke="#2e3a35" stroke-width="0.9"/>
<rect x="122.90" y="444.10" width="18.30" height="50.40" fill="#99c7a9" fill-opacity="0.5" stroke="#2e3a35" stroke-width="0.9"/>
<rect x="141.20" y="381.60" width="18.30" height="112.90" fill="#99c7a9" fill-opacity="0.5" stroke="#2e3a35" stroke-width="0.9"/>
<rect x="159.50" y="363.50" width="18.30" height="131.00" fill="#99c7a9" fill-opacity="0.5" stroke="#2e3a35" stroke-width="0.9"/>
<rect x="177.80" y="329.40" width="18.30" height="165.10" fill="#99c7a9" fill-opacity="0.5" stroke="#2e3a35" stroke-width="0.9"/>
<rect x="196.10" y="378.20" width="18.30" height="116.30" fill="#99c7a9" fill-opacity="0.5" stroke="#2e3a35" stroke-width="0.9"/>
<rect x="214.40" y="401.20" width="18.30" height="93.30" fill="#99c7a9" fill-opacity="0.5" stroke="#2e3a35" stroke-width="0.9"/>
<rect x="232.70" y="434.40" width="18.30" height="60.10" fill="#99c7a9" fill-opacity="0.5" stroke="#2e3a35" stroke-width="0.9"/>
<rect x="251.00" y="480.40" width="18.30" height="14.10" fill="#99c7a9" fill-opacity="0.5" stroke="#2e3a35" stroke-width="0.9"/>
<rect x="269.30" y="481.50" width="18.30" height="13.00" fill="#99c7a9" fill-opacity="0.5" stroke="#2e3a35" stroke-width="0.9"/>
<rect x="287.60" y="493.30" width="18.30" height="1.20" fill="#99c7a9" fill-opacity="0.5" stroke="#2e3a35" stroke-width="0.9"/>
<polyline points="56.65,494.71 58.62,494.53 60.59,494.31 62.56,494.07 64.53,493.79 66.50,493.47 68.47,493.12 70.44,492.71 72.40,492.26 74.37,491.75 76.34,491.18 78.31,490.54 80.28,489.82 82.25,489.03 84.22,488.16 86.19,487.19 88.15,486.12 90.12,484.95 92.09,483.67 94.06,482.27 96.03,480.74 98.00,479.08 99.97,477.29 101.94,475.35 103.90,473.27 105.87,471.03 107.84,468.63 109.81,466.08 111.78,463.36 113.75,460.48 115.72,457.44 117.69,454.24 119.65,450.88 121.62,447.36 123.59,443.69 125.56,439.88 127.53,435.94 129.50,431.87 131.47,427.69 133.44,423.40 135.41,419.04 137.37,414.61 139.34,410.12 141.31,405.61 143.28,401.09 145.25,396.58 147.22,392.10 149.19,387.68 151.16,383.35 153.12,379.12 155.09,375.02 157.06,371.08 159.03,367.32 161.00,363.76 162.97,360.43 164.94,357.35 166.91,354.53 168.87,352.01 170.84,349.79 172.81,347.89 174.78,346.33 176.75,345.12 178.72,344.25 180.69,343.75 182.66,343.62 184.62,343.84 186.59,344.43 188.56,345.38 190.53,346.69 192.50,348.33 194.47,350.31 196.44,352.61 198.41,355.20 200.37,358.09 202.34,361.23 204.31,364.62 206.28,368.23 208.25,372.04 210.22,376.02 212.19,380.16 214.16,384.41 216.12,388.77 218.09,393.21 220.06,397.69 222.03,402.21 224.00,406.73 225.97,411.24 227.94,415.71 229.91,420.13 231.87,424.47 233.84,428.73 235.81,432.89 237.78,436.93 239.75,440.84 241.72,444.61 243.69,448.24 245.66,451.72 247.63,455.05 249.59,458.21 251.56,461.21 253.53,464.05 255.50,466.73 257.47,469.24 259.44,471.60 261.41,473.80 263.38,475.85 265.34,477.75 267.31,479.51 269.28,481.13 271.25,482.63 273.22,484.00 275.19,485.25 277.16,486.40 279.13,487.44 281.09,488.38 283.06,489.24 285.03,490.01 287.00,490.70 288.97,491.32 290.94,491.88 292.91,492.38" fill="none" stroke="#f00000" stroke-width="1.3"/>
<rect x="37.20" y="328.30" width="281.20" height="166.20" fill="none" stroke="#4a4a4a" stroke-width="1"/>
<line x1="49.70" y1="494.50" x2="49.70" y2="492.00" stroke="#4a4a4a" stroke-width="0.8"/>
<line x1="49.70" y1="328.30" x2="49.70" y2="330.80" stroke="#4a4a4a" stroke-width="0.8"/>
<text x="49.70" y="504.50" font-size="6.5" text-anchor="middle" fill="#262626" stroke="#262626" stroke-width="0.25">-4</text>
<line x1="86.30" y1="494.50" x2="86.30" y2="492.00" stroke="#4a4a4a" stroke-width="0.8"/>
<line x1="86.30" y1="328.30" x2="86.30" y2="330.80" stroke="#4a4a4a" stroke-width="0.8"/>
<text x="86.30" y="504.50" font-size="6.5" text-anchor="middle" fill="#262626" stroke="#262626" stroke-width="0.25">-3</text>
<line x1="122.90" y1="494.50" x2="122.90" y2="492.00" stroke="#4a4a4a" stroke-width="0.8"/>
<line x1="122.90" y1="328.30" x2="122.90" y2="330.80" stroke="#4a4a4a" stroke-width="0.8"/>
<text x="122.90" y="504.50" font-size="6.5" text-anchor="middle" fill="#262626" stroke="#262626" stroke-width="0.25">-2</text>
<line x1="159.50" y1="494.50" x2="159.50" y2="492.00" stroke="#4a4a4a" stroke-width="0.8"/>
<line x1="159.50" y1="328.30" x2="159.50" y2="330.80" stroke="#4a4a4a" stroke-width="0.8"/>
<text x="159.50" y="504.50" font-size="6.5" text-anchor="middle" fill="#262626" stroke="#262626" stroke-width="0.25">-1</text>
<line x1="196.10" y1="494.50" x2="196.10" y2="492.00" stroke="#4a4a4a" stroke-width="0.8"/>
<line x1="196.10" y1="328.30" x2="196.10" y2="330.80" stroke="#4a4a4a" stroke-width="0.8"/>
<text x="196.10" y="504.50" font-size="6.5" text-anchor="middle" fill="#262626" stroke="#262626" stroke-width="0.25">0</text>
<line x1="232.70" y1="494.50" x2="232.70" y2="492.00" stroke="#4a4a4a" stroke-width="0.8"/>
<line x1="232.70" y1="328.30" x2="232.70" y2="330.80" stroke="#4a4a4a" stroke-width="0.8"/>
<text x="232.70" y="504.50" font-size="6.5" text-anchor="middle" fill="#262626" stroke="#262626" stroke-width="0.25">1</text>
<line x1="269.30" y1="494.50" x2="269.30" y2="492.00" stroke="#4a4a4a" stroke-width="0.8"/>
<line x1="269.30" y1="328.30" x2="269.30" y2="330.80" stroke="#4a4a4a" stroke-width="0.8"/>
<text x="269.30" y="504.50" font-size="6.5" text-anchor="middle" fill="#262626" stroke="#262626" stroke-width="0.25">2</text>
<line x1="305.90" y1="494.50" x2="305.90" y2="492.00" stroke="#4a4a4a" stroke-width="0.8"/>
<line x1="305.90" y1="328.30" x2="305.90" y2="330.80" stroke="#4a4a4a" stroke-width="0.8"/>
<text x="305.90" y="504.50" font-size="6.5" text-anchor="middle" fill="#262626" stroke="#262626" stroke-width="0.25">3</text>
<line x1="37.20" y1="494.50" x2="39.70" y2="494.50" stroke="#4a4a4a" stroke-width="0.8"/>
<line x1="318.40" y1="494.50" x2="315.90" y2="494.50" stroke="#4a4a4a" stroke-width="0.8"/>
<text x="34.20" y="497.50" font-size="6.5" text-anchor="end" fill="#262626" stroke="#262626" stroke-width="0.25">0</text>
<line x1="37.20" y1="474.20" x2="39.70" y2="474.20" stroke="#4a4a4a" stroke-width="0.8"/>
<line x1="318.40" y1="474.20" x2="315.90" y2="474.20" stroke="#4a4a4a" stroke-width="0.8"/>
<text x="34.20" y="477.20" font-size="6.5" text-anchor="end" fill="#262626" stroke="#262626" stroke-width="0.25">0.05</text>
<line x1="37.20" y1="453.25" x2="39.70" y2="453.25" stroke="#4a4a4a" stroke-width="0.8"/>
<line x1="318.40" y1="453.25" x2="315.90" y2="453.25" stroke="#4a4a4a" stroke-width="0.8"/>
<text x="34.20" y="456.25" font-size="6.5" text-anchor="end" fill="#262626" stroke="#262626" stroke-width="0.25">0.1</text>
<line x1="37.20" y1="432.30" x2="39.70" y2="432.30" stroke="#4a4a4a" stroke-width="0.8"/>
<line x1="318.40" y1="432.30" x2="315.90" y2="432.30" stroke="#4a4a4a" stroke-width="0.8"/>
<text x="34.20" y="435.30" font-size="6.5" text-anchor="end" fill="#262626" stroke="#262626" stroke-width="0.25">0.15</text>
<line x1="37.20" y1="411.35" x2="39.70" y2="411.35" stroke="#4a4a4a" stroke-width="0.8"/>
<line x1="318.40" y1="411.35" x2="315.90" y2="411.35" stroke="#4a4a4a" stroke-width="0.8"/>
<text x="34.20" y="414.35" font-size="6.5" text-anchor="end" fill="#262626" stroke="#262626" stroke-width="0.25">0.2</text>
<line x1="37.20" y1="390.40" x2="39.70" y2="390.40" stroke="#4a4a4a" stroke-width="0.8"/>
<line x1="318.40" y1="390.40" x2="315.90" y2="390.40" stroke="#4a4a4a" stroke-width="0.8"/>
<text x="34.20" y="393.40" font-size="6.5" text-anchor="end" fill="#262626" stroke="#262626" stroke-width="0.25">0.25</text>
<line x1="37.20" y1="369.45" x2="39.70" y2="369.45" stroke="#4a4a4a" stroke-width="0.8"/>
<line x1="318.40" y1="369.45" x2="315.90" y2="369.45" stroke="#4a4a4a" stroke-width="0.8"/>
<text x="34.20" y="372.45" font-size="6.5" text-anchor="end" fill="#262626" stroke="#262626" stroke-width="0.25">0.3</text>
<line x1="37.20" y1="348.50" x2="39.70" y2="348.50" stroke="#4a4a4a" stroke-width="0.8"/>
<line x1="318.40" y1="348.50" x2="315.90" y2="348.50" stroke="#4a4a4a" stroke-width="0.8"/>
<text x="34.20" y="351.50" font-size="6.5" text-anchor="end" fill="#262626" stroke="#262626" stroke-width="0.25">0.35</text>
<line x1="37.20" y1="328.30" x2="39.70" y2="328.30" stroke="#4a4a4a" stroke-width="0.8"/>
<line x1="318.40" y1="328.30" x2="315.90" y2="328.30" stroke="#4a4a4a" stroke-width="0.8"/>
<text x="34.20" y="331.30" font-size="6.5" text-anchor="end" fill="#262626" stroke="#262626" stroke-width="0.25">0.4</text>
<text x="178.30" y="324.90" font-size="7.1" font-weight="bold" text-anchor="middle" fill="#1a1a1a" stroke="#1a1a1a" stroke-width="0.25">Normalized Distribution of LogS</text>
<text x="177.90" y="513.60" font-size="7" text-anchor="middle" fill="#262626" stroke="#262626" stroke-width="0.25">LogS</text>
<text transform="translate(17.50,411.00) rotate(-90)" font-size="7.2" text-anchor="middle" fill="#262626" stroke="#262626" stroke-width="0.25">Probability Density</text>
<text x="182.40" y="344.40" font-size="7.7" fill="#f00000" stroke="#f00000" stroke-width="0.1">Mean: -0.374</text>
<text x="122.40" y="365.00" font-size="6.4" fill="#2b2b8c" stroke="#2b2b8c" stroke-width="0.25">-1 SD: -1.472</text>
<text x="204.40" y="365.00" font-size="6.4" fill="#2b2b8c" stroke="#2b2b8c" stroke-width="0.25">+1 SD: 0.724</text>
<rect x="247.30" y="333.60" width="65.80" height="17.70" fill="#fff" stroke="#4a4a4a" stroke-width="0.8"/>
<rect x="249.30" y="335.80" width="18.70" height="4.90" fill="#99c7a9" fill-opacity="0.5" stroke="#2e3a35" stroke-width="0.8"/>
<line x1="249.30" y1="346.20" x2="268.00" y2="346.20" stroke="#f00000" stroke-width="1.3"/>
<text x="270.30" y="341.00" font-size="5.95" fill="#1a1a1a" stroke="#1a1a1a" stroke-width="0.25">LogS</text>
<text x="270.30" y="348.60" font-size="5.95" fill="#1a1a1a" stroke="#1a1a1a" stroke-width="0.25">Fitted Gaussian</text>
<line x1="417.50" y1="332.30" x2="417.50" y2="497.50" stroke="#e1e1e1" stroke-width="0.9"/>
<line x1="453.20" y1="332.30" x2="453.20" y2="497.50" stroke="#e1e1e1" stroke-width="0.9"/>
<line x1="488.90" y1="332.30" x2="488.90" y2="497.50" stroke="#e1e1e1" stroke-width="0.9"/>
<line x1="524.60" y1="332.30" x2="524.60" y2="497.50" stroke="#e1e1e1" stroke-width="0.9"/>
<line x1="560.30" y1="332.30" x2="560.30" y2="497.50" stroke="#e1e1e1" stroke-width="0.9"/>
<line x1="596.00" y1="332.30" x2="596.00" y2="497.50" stroke="#e1e1e1" stroke-width="0.9"/>
<line x1="631.70" y1="332.30" x2="631.70" y2="497.50" stroke="#e1e1e1" stroke-width="0.9"/>
<line x1="667.40" y1="332.30" x2="667.40" y2="497.50" stroke="#e1e1e1" stroke-width="0.9"/>
<line x1="385.50" y1="474.20" x2="699.70" y2="474.20" stroke="#e1e1e1" stroke-width="0.9"/>
<line x1="385.50" y1="450.50" x2="699.70" y2="450.50" stroke="#e1e1e1" stroke-width="0.9"/>
<line x1="385.50" y1="426.80" x2="699.70" y2="426.80" stroke="#e1e1e1" stroke-width="0.9"/>
<line x1="385.50" y1="403.10" x2="699.70" y2="403.10" stroke="#e1e1e1" stroke-width="0.9"/>
<line x1="385.50" y1="379.40" x2="699.70" y2="379.40" stroke="#e1e1e1" stroke-width="0.9"/>
<line x1="385.50" y1="355.70" x2="699.70" y2="355.70" stroke="#e1e1e1" stroke-width="0.9"/>
<rect x="399.65" y="496.50" width="17.85" height="1.00" fill="#9f87c5" fill-opacity="0.5" stroke="#332c40" stroke-width="0.9"/>
<rect x="417.50" y="492.20" width="17.85" height="5.30" fill="#9f87c5" fill-opacity="0.5" stroke="#332c40" stroke-width="0.9"/>
<rect x="435.35" y="485.30" width="17.85" height="12.20" fill="#9f87c5" fill-opacity="0.5" stroke="#332c40" stroke-width="0.9"/>
<rect x="453.20" y="475.20" width="17.85" height="22.30" fill="#9f87c5" fill-opacity="0.5" stroke="#332c40" stroke-width="0.9"/>
<rect x="471.05" y="419.20" width="17.85" height="78.30" fill="#9f87c5" fill-opacity="0.5" stroke="#332c40" stroke-width="0.9"/>
<rect x="488.90" y="421.20" width="17.85" height="76.30" fill="#9f87c5" fill-opacity="0.5" stroke="#332c40" stroke-width="0.9"/>
<rect x="506.75" y="400.90" width="17.85" height="96.60" fill="#9f87c5" fill-opacity="0.5" stroke="#332c40" stroke-width="0.9"/>
<rect x="524.60" y="352.60" width="17.85" height="144.90" fill="#9f87c5" fill-opacity="0.5" stroke="#332c40" stroke-width="0.9"/>
<rect x="542.45" y="339.60" width="17.85" height="157.90" fill="#9f87c5" fill-opacity="0.5" stroke="#332c40" stroke-width="0.9"/>
<rect x="560.30" y="358.50" width="17.85" height="139.00" fill="#9f87c5" fill-opacity="0.5" stroke="#332c40" stroke-width="0.9"/>
<rect x="578.15" y="397.30" width="17.85" height="100.20" fill="#9f87c5" fill-opacity="0.5" stroke="#332c40" stroke-width="0.9"/>
<rect x="596.00" y="434.50" width="17.85" height="63.00" fill="#9f87c5" fill-opacity="0.5" stroke="#332c40" stroke-width="0.9"/>
<rect x="613.85" y="468.20" width="17.85" height="29.30" fill="#9f87c5" fill-opacity="0.5" stroke="#332c40" stroke-width="0.9"/>
<rect x="631.70" y="490.20" width="17.85" height="7.30" fill="#9f87c5" fill-opacity="0.5" stroke="#332c40" stroke-width="0.9"/>
<rect x="649.55" y="494.30" width="17.85" height="3.20" fill="#9f87c5" fill-opacity="0.5" stroke="#332c40" stroke-width="0.9"/>
<rect x="667.40" y="494.30" width="17.85" height="3.20" fill="#9f87c5" fill-opacity="0.5" stroke="#332c40" stroke-width="0.9"/>
<polyline points="415.36,495.84 417.54,495.52 419.72,495.16 421.90,494.74 424.08,494.28 426.26,493.76 428.43,493.17 430.61,492.52 432.79,491.79 434.97,490.97 437.15,490.07 439.33,489.07 441.51,487.97 443.69,486.76 445.87,485.44 448.05,483.99 450.23,482.41 452.41,480.69 454.59,478.83 456.77,476.81 458.95,474.65 461.13,472.32 463.31,469.84 465.49,467.18 467.67,464.36 469.85,461.37 472.02,458.21 474.20,454.88 476.38,451.39 478.56,447.74 480.74,443.94 482.92,439.99 485.10,435.90 487.28,431.69 489.46,427.37 491.64,422.95 493.82,418.45 496.00,413.89 498.18,409.28 500.36,404.66 502.54,400.03 504.72,395.42 506.90,390.87 509.08,386.38 511.26,381.99 513.43,377.73 515.61,373.62 517.79,369.68 519.97,365.95 522.15,362.44 524.33,359.18 526.51,356.19 528.69,353.49 530.87,351.10 533.05,349.04 535.23,347.33 537.41,345.97 539.59,344.97 541.77,344.35 543.95,344.10 546.13,344.24 548.31,344.75 550.49,345.63 552.67,346.89 554.85,348.50 557.02,350.46 559.20,352.75 561.38,355.35 563.56,358.26 565.74,361.44 567.92,364.88 570.10,368.55 572.28,372.43 574.46,376.50 576.64,380.72 578.82,385.07 581.00,389.53 583.18,394.07 585.36,398.66 587.54,403.28 589.72,407.91 591.90,412.53 594.08,417.11 596.26,421.63 598.43,426.07 600.61,430.42 602.79,434.67 604.97,438.79 607.15,442.78 609.33,446.63 611.51,450.33 613.69,453.87 615.87,457.24 618.05,460.45 620.23,463.49 622.41,466.36 624.59,469.07 626.77,471.60 628.95,473.98 631.13,476.19 633.31,478.25 635.49,480.15 637.67,481.91 639.84,483.53 642.02,485.02 644.20,486.38 646.38,487.63 648.56,488.76 650.74,489.79 652.92,490.72 655.10,491.55 657.28,492.31 659.46,492.99 661.64,493.59 663.82,494.13 666.00,494.61 668.18,495.04 670.36,495.42 672.54,495.75 674.72,496.04 676.90,496.30" fill="none" stroke="#f00000" stroke-width="1.3"/>
<rect x="385.50" y="332.30" width="314.20" height="165.20" fill="none" stroke="#4a4a4a" stroke-width="1"/>
<line x1="417.50" y1="497.50" x2="417.50" y2="495.00" stroke="#4a4a4a" stroke-width="0.8"/>
<line x1="417.50" y1="332.30" x2="417.50" y2="334.80" stroke="#4a4a4a" stroke-width="0.8"/>
<text x="417.50" y="507.50" font-size="6.5" text-anchor="middle" fill="#262626" stroke="#262626" stroke-width="0.25">-5</text>
<line x1="453.20" y1="497.50" x2="453.20" y2="495.00" stroke="#4a4a4a" stroke-width="0.8"/>
<line x1="453.20" y1="332.30" x2="453.20" y2="334.80" stroke="#4a4a4a" stroke-width="0.8"/>
<text x="453.20" y="507.50" font-size="6.5" text-anchor="middle" fill="#262626" stroke="#262626" stroke-width="0.25">-4</text>
<line x1="488.90" y1="497.50" x2="488.90" y2="495.00" stroke="#4a4a4a" stroke-width="0.8"/>
<line x1="488.90" y1="332.30" x2="488.90" y2="334.80" stroke="#4a4a4a" stroke-width="0.8"/>
<text x="488.90" y="507.50" font-size="6.5" text-anchor="middle" fill="#262626" stroke="#262626" stroke-width="0.25">-3</text>
<line x1="524.60" y1="497.50" x2="524.60" y2="495.00" stroke="#4a4a4a" stroke-width="0.8"/>
<line x1="524.60" y1="332.30" x2="524.60" y2="334.80" stroke="#4a4a4a" stroke-width="0.8"/>
<text x="524.60" y="507.50" font-size="6.5" text-anchor="middle" fill="#262626" stroke="#262626" stroke-width="0.25">-2</text>
<line x1="560.30" y1="497.50" x2="560.30" y2="495.00" stroke="#4a4a4a" stroke-width="0.8"/>
<line x1="560.30" y1="332.30" x2="560.30" y2="334.80" stroke="#4a4a4a" stroke-width="0.8"/>
<text x="560.30" y="507.50" font-size="6.5" text-anchor="middle" fill="#262626" stroke="#262626" stroke-width="0.25">-1</text>
<line x1="596.00" y1="497.50" x2="596.00" y2="495.00" stroke="#4a4a4a" stroke-width="0.8"/>
<line x1="596.00" y1="332.30" x2="596.00" y2="334.80" stroke="#4a4a4a" stroke-width="0.8"/>
<text x="596.00" y="507.50" font-size="6.5" text-anchor="middle" fill="#262626" stroke="#262626" stroke-width="0.25">0</text>
<line x1="631.70" y1="497.50" x2="631.70" y2="495.00" stroke="#4a4a4a" stroke-width="0.8"/>
<line x1="631.70" y1="332.30" x2="631.70" y2="334.80" stroke="#4a4a4a" stroke-width="0.8"/>
<text x="631.70" y="507.50" font-size="6.5" text-anchor="middle" fill="#262626" stroke="#262626" stroke-width="0.25">1</text>
<line x1="667.40" y1="497.50" x2="667.40" y2="495.00" stroke="#4a4a4a" stroke-width="0.8"/>
<line x1="667.40" y1="332.30" x2="667.40" y2="334.80" stroke="#4a4a4a" stroke-width="0.8"/>
<text x="667.40" y="507.50" font-size="6.5" text-anchor="middle" fill="#262626" stroke="#262626" stroke-width="0.25">2</text>
<line x1="385.50" y1="497.50" x2="388.00" y2="497.50" stroke="#4a4a4a" stroke-width="0.8"/>
<line x1="699.70" y1="497.50" x2="697.20" y2="497.50" stroke="#4a4a4a" stroke-width="0.8"/>
<text x="382.50" y="500.50" font-size="6.5" text-anchor="end" fill="#262626" stroke="#262626" stroke-width="0.25">0</text>
<line x1="385.50" y1="474.20" x2="388.00" y2="474.20" stroke="#4a4a4a" stroke-width="0.8"/>
<line x1="699.70" y1="474.20" x2="697.20" y2="474.20" stroke="#4a4a4a" stroke-width="0.8"/>
<text x="382.50" y="477.20" font-size="6.5" text-anchor="end" fill="#262626" stroke="#262626" stroke-width="0.25">0.05</text>
<line x1="385.50" y1="450.50" x2="388.00" y2="450.50" stroke="#4a4a4a" stroke-width="0.8"/>
<line x1="699.70" y1="450.50" x2="697.20" y2="450.50" stroke="#4a4a4a" stroke-width="0.8"/>
<text x="382.50" y="453.50" font-size="6.5" text-anchor="end" fill="#262626" stroke="#262626" stroke-width="0.25">0.1</text>
<line x1="385.50" y1="426.80" x2="388.00" y2="426.80" stroke="#4a4a4a" stroke-width="0.8"/>
<line x1="699.70" y1="426.80" x2="697.20" y2="426.80" stroke="#4a4a4a" stroke-width="0.8"/>
<text x="382.50" y="429.80" font-size="6.5" text-anchor="end" fill="#262626" stroke="#262626" stroke-width="0.25">0.15</text>
<line x1="385.50" y1="403.10" x2="388.00" y2="403.10" stroke="#4a4a4a" stroke-width="0.8"/>
<line x1="699.70" y1="403.10" x2="697.20" y2="403.10" stroke="#4a4a4a" stroke-width="0.8"/>
<text x="382.50" y="406.10" font-size="6.5" text-anchor="end" fill="#262626" stroke="#262626" stroke-width="0.25">0.2</text>
<line x1="385.50" y1="379.40" x2="388.00" y2="379.40" stroke="#4a4a4a" stroke-width="0.8"/>
<line x1="699.70" y1="379.40" x2="697.20" y2="379.40" stroke="#4a4a4a" stroke-width="0.8"/>
<text x="382.50" y="382.40" font-size="6.5" text-anchor="end" fill="#262626" stroke="#262626" stroke-width="0.25">0.25</text>
<line x1="385.50" y1="355.70" x2="388.00" y2="355.70" stroke="#4a4a4a" stroke-width="0.8"/>
<line x1="699.70" y1="355.70" x2="697.20" y2="355.70" stroke="#4a4a4a" stroke-width="0.8"/>
<text x="382.50" y="358.70" font-size="6.5" text-anchor="end" fill="#262626" stroke="#262626" stroke-width="0.25">0.3</text>
<line x1="385.50" y1="332.30" x2="388.00" y2="332.30" stroke="#4a4a4a" stroke-width="0.8"/>
<line x1="699.70" y1="332.30" x2="697.20" y2="332.30" stroke="#4a4a4a" stroke-width="0.8"/>
<text x="382.50" y="335.30" font-size="6.5" text-anchor="end" fill="#262626" stroke="#262626" stroke-width="0.25">0.35</text>
<text x="543.10" y="328.90" font-size="7.1" font-weight="bold" text-anchor="middle" fill="#1a1a1a" stroke="#1a1a1a" stroke-width="0.25">Normalized Distribution of cLogP</text>
<text x="542.80" y="516.60" font-size="7" text-anchor="middle" fill="#262626" stroke="#262626" stroke-width="0.25">cLogP</text>
<text transform="translate(366.70,414.60) rotate(-90)" font-size="7.2" text-anchor="middle" fill="#262626" stroke="#262626" stroke-width="0.25">Probability Density</text>
<text x="544.70" y="340.10" font-size="7.7" fill="#f00000" stroke="#f00000" stroke-width="0.1">Mean: -1.449</text>
<text x="481.10" y="368.70" font-size="6.4" fill="#2b2b8c" stroke="#2b2b8c" stroke-width="0.25">-1 SD: -2.679</text>
<text x="569.00" y="368.70" font-size="6.4" fill="#2b2b8c" stroke="#2b2b8c" stroke-width="0.25">+1 SD: -0.220</text>
<rect x="628.30" y="337.60" width="66.00" height="17.80" fill="#fff" stroke="#4a4a4a" stroke-width="0.8"/>
<rect x="630.30" y="339.30" width="19.30" height="5.70" fill="#9f87c5" fill-opacity="0.5" stroke="#332c40" stroke-width="0.8"/>
<line x1="630.30" y1="350.40" x2="649.60" y2="350.40" stroke="#f00000" stroke-width="1.3"/>
<text x="650.70" y="344.60" font-size="5.95" fill="#1a1a1a" stroke="#1a1a1a" stroke-width="0.25">cLogP</text>
<text x="650.70" y="352.60" font-size="5.95" fill="#1a1a1a" stroke="#1a1a1a" stroke-width="0.25">Fitted Gaussian</text>
</svg></body></html>
